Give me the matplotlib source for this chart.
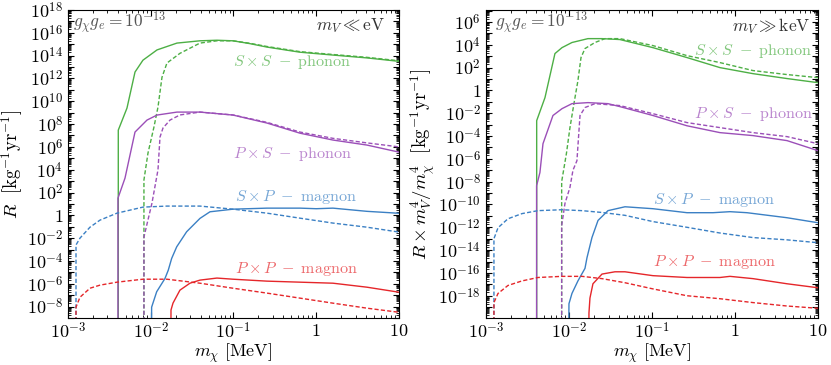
import numpy as np
import matplotlib
matplotlib.use("Agg")
import matplotlib.pyplot as plt
from matplotlib.ticker import LogLocator, FuncFormatter, NullFormatter

plt.rcParams['mathtext.fontset'] = 'cm'
plt.rcParams['font.family'] = 'serif'

# values, stored as log10(m_chi / MeV) and log10(R)
# -30 marks a curve that drops out of the bottom of the frame

# ---- left panel: m_V << eV
ss_l_m = [-2.392, -2.392, -2.287, -2.19, -2.094, -1.924, -1.683, -1.405, -1.2, -1.006, -0.8, -0.595, -0.196, 0.202, 0.613, 1.0]
ss_l_R = [-30, 7.47, 9.4, 12.56, 13.6, 14.5, 15.1, 15.3, 15.35, 15.3, 15.05, 14.75, 14.3, 14.05, 13.8, 13.5]
ss_l_dm = [-2.082, -2.082, -2.033, -1.961, -1.912, -1.864, -1.804, -1.647, -1.405, -1.2, -1.006, -0.8, -0.595, -0.196, 0.202, 0.613, 1.0]
ss_l_dR = [-30, 3.1, 5.46, 7.74, 9.5, 12.1, 13.35, 14.2, 15.1, 15.3, 15.3, 15.08, 14.8, 14.35, 14.1, 13.85, 13.55]

ps_l_m = [-2.396, -2.396, -2.311, -2.19, -2.045, -1.924, -1.683, -1.405, -1.006, -0.595, -0.196, 0.202, 0.613, 1.0]
ps_l_R = [-30, 1.5, 3.26, 7.3, 8.35, 8.79, 9.05, 9.05, 8.79, 8.09, 7.2, 6.6, 6.16, 5.54]
ps_l_dm = [-2.082, -2.082, -1.985, -1.912, -1.888, -1.852, -1.767, -1.647, -1.405, -1.006, -0.595, -0.196, 0.202, 0.613, 1.0]
ps_l_dR = [-30, -1.9, 1.07, 4.0, 6.86, 7.65, 8.35, 8.8, 9.05, 8.8, 8.15, 7.3, 6.75, 6.35, 6.0]

sp_l_m = [-2.009, -1.989, -1.928, -1.828, -1.788, -1.747, -1.686, -1.566, -1.405, -1.284, -1.006, -0.595, -0.196, 0.0, 0.202, 0.613, 1.0]
sp_l_R = [-30, -8.05, -6.7, -5.54, -4.81, -3.78, -2.76, -1.44, -0.27, 0.31, 0.54, 0.63, 0.63, 0.58, 0.63, 0.35, 0.18]
sp_l_dm = [-2.903, -2.903, -2.855, -2.734, -2.613, -2.408, -2.094, -1.804, -1.405, -1.006, -0.595, -0.196, 0.202, 0.613, 1.0]
sp_l_dR = [-30, -2.6, -2.0, -1.04, -0.42, 0.19, 0.72, 0.81, 0.81, 0.54, 0.19, -0.25, -0.68, -1.04, -1.47]

pp_l_m = [-1.767, -1.755, -1.731, -1.647, -1.526, -1.405, -1.2, -1.006, -0.595, -0.196, 0.202, 0.613, 1.0]
pp_l_R = [-30, -8.3, -7.7, -6.56, -5.95, -5.68, -5.5, -5.6, -5.77, -5.86, -5.95, -6.3, -6.74]
pp_l_dm = [-2.903, -2.903, -2.855, -2.734, -2.613, -2.408, -2.094, -1.804, -1.405, -1.006, -0.595, -0.196, 0.202, 0.613, 1.0]
pp_l_dR = [-30, -8.05, -7.18, -6.39, -6.12, -5.86, -5.6, -5.6, -5.95, -6.39, -6.82, -7.26, -7.7, -8.14, -8.5]

# ---- right panel: m_V >> keV, R * m_V^4 / m_chi^4
ss_r_m = [-2.389, -2.389, -2.289, -2.169, -2.084, -1.964, -1.771, -1.6, -1.386, -0.988, -0.578, -0.181, 0.217, 0.627, 1.0]
ss_r_R = [-30, -2.65, -0.63, 3.23, 3.75, 4.2, 4.54, 4.54, 4.46, 3.75, 2.88, 2.0, 1.47, 1.04, 0.68]
ss_r_dm = [-2.088, -2.088, -2.03, -1.988, -1.94, -1.892, -1.855, -1.807, -1.687, -1.566, -1.386, -0.988, -0.578, -0.181, 0.217, 0.627, 1.0]
ss_r_dR = [-30, -8.0, -5.5, -3.26, -1.16, 0.86, 2.88, 3.67, 4.2, 4.54, 4.54, 3.93, 3.05, 2.44, 1.74, 1.39, 1.12]

ps_r_m = [-2.39, -2.39, -2.35, -2.313, -2.193, -2.084, -1.964, -1.771, -1.53, -1.386, -0.988, -0.578, -0.181, 0.217, 0.627, 1.0]
ps_r_R = [-30, -8.35, -7.2, -4.67, -2.2, -1.6, -1.16, -1.07, -1.16, -1.42, -2.2, -3.1, -3.7, -3.96, -4.4, -5.28]
ps_r_dm = [-2.088, -2.088, -2.048, -1.988, -1.952, -1.904, -1.867, -1.807, -1.687, -1.386, -0.988, -0.578, -0.181, 0.217, 0.627, 1.0]
ps_r_dR = [-30, -11.86, -9.9, -8.5, -7.0, -6.16, -2.2, -1.5, -1.16, -1.33, -2.04, -2.82, -3.26, -3.7, -4.05, -4.67]

sp_r_m = [-2.012, -2.0, -1.964, -1.892, -1.807, -1.783, -1.723, -1.65, -1.53, -1.325, -0.988, -0.578, -0.265, -0.06, 0.145, 0.627, 1.0]
sp_r_R = [-30, -18.7, -17.8, -16.7, -15.6, -14.67, -12.9, -11.4, -10.54, -10.2, -10.37, -10.72, -10.72, -10.63, -10.72, -11.16, -11.6]
sp_r_dm = [-2.904, -2.904, -2.855, -2.735, -2.566, -2.373, -2.084, -1.843, -1.602, -1.325, -0.988, -0.578, -0.181, 0.217, 0.627, 1.0]
sp_r_dR = [-30, -13.0, -12.04, -11.25, -10.8, -10.54, -10.46, -10.54, -10.7, -10.95, -11.5, -12.0, -12.5, -12.9, -13.1, -13.35]

pp_r_m = [-1.771, -1.759, -1.747, -1.711, -1.602, -1.446, -1.325, -0.988, -0.578, -0.181, -0.06, 0.217, 0.627, 1.0]
pp_r_R = [-30, -19.5, -18.2, -16.95, -16.1, -15.9, -15.9, -16.24, -16.4, -16.4, -16.3, -16.5, -16.95, -17.3]
pp_r_dm = [-2.904, -2.904, -2.855, -2.735, -2.566, -2.373, -2.084, -1.843, -1.602, -1.325, -0.988, -0.578, -0.181, 0.217, 0.627, 1.0]
pp_r_dR = [-30, -18.6, -17.8, -17.1, -16.7, -16.4, -16.3, -16.3, -16.5, -16.86, -17.4, -18.0, -18.26, -18.6, -18.9, -19.1]

labels = [r'$S\times S\ -\ \mathrm{phonon}$', r'$P\times S\ -\ \mathrm{phonon}$',
          r'$S\times P\ -\ \mathrm{magnon}$', r'$P\times P\ -\ \mathrm{magnon}$']
colors = ['#4daf45', '#9b4fb8', '#3b80c4', '#e5262a']


def fmt(v, pos):
    e = int(round(np.log10(v)))
    if e % 2 != 0:
        return ''
    if e == 0:
        return r'$1$'
    return r'$10^{%d}$' % e


def fmt_x(v, pos):
    e = int(round(np.log10(v)))
    if e == 0:
        return r'$1$'
    if e == 1:
        return r'$10$'
    return r'$10^{%d}$' % e


def setup(ax, ylim):
    ax.set_xscale('log')
    ax.set_yscale('log')
    ax.set_xlim(1e-3, 10)
    ax.set_ylim(*ylim)
    ax.xaxis.set_major_locator(LogLocator(base=10, numticks=20))
    ax.xaxis.set_minor_locator(LogLocator(base=10, subs=np.arange(2, 10), numticks=20))
    ax.yaxis.set_major_locator(LogLocator(base=10, subs=(1.0,), numticks=40))
    ax.yaxis.set_minor_locator(LogLocator(base=10, subs=np.arange(2, 10), numticks=40))
    ax.xaxis.set_major_formatter(FuncFormatter(fmt_x))
    ax.yaxis.set_major_formatter(FuncFormatter(fmt))
    ax.xaxis.set_minor_formatter(NullFormatter())
    ax.yaxis.set_minor_formatter(NullFormatter())
    ax.tick_params(which='both', direction='in', top=True, right=True, labelsize=13)
    ax.tick_params(which='major', length=4, width=0.8)
    ax.tick_params(which='minor', length=2, width=0.6)
    ax.tick_params(axis='x', pad=3)
    ax.set_xlabel(r'$m_\chi\ [\mathrm{MeV}]$', fontsize=13, labelpad=-1)


def curves(ax, sets):
    for (m, R, dm, dR), c in zip(sets, colors):
        ax.plot(np.power(10.0, m), np.power(10.0, R), color=c, lw=1.0)
        ax.plot(np.power(10.0, dm), np.power(10.0, dR), color=c, lw=1.0, ls=(0, (3, 1.6)))


fig = plt.figure(figsize=(8.31, 3.65), dpi=100)
axl = fig.add_axes([0.0818, 0.1288, 0.3983, 0.8438])
axr = fig.add_axes([0.5848, 0.1288, 0.3995, 0.8438])

setup(axl, (1e-9, 1e18))
setup(axr, (10 ** -19.95, 10 ** 7.05))

curves(axl, [(ss_l_m, ss_l_R, ss_l_dm, ss_l_dR), (ps_l_m, ps_l_R, ps_l_dm, ps_l_dR),
             (sp_l_m, sp_l_R, sp_l_dm, sp_l_dR), (pp_l_m, pp_l_R, pp_l_dm, pp_l_dR)])
curves(axr, [(ss_r_m, ss_r_R, ss_r_dm, ss_r_dR), (ps_r_m, ps_r_R, ps_r_dm, ps_r_dR),
             (sp_r_m, sp_r_R, sp_r_dm, sp_r_dR), (pp_r_m, pp_r_R, pp_r_dm, pp_r_dR)])

axl.set_ylabel(r'$R\ \ [\mathrm{kg}^{-1}\mathrm{yr}^{-1}]$', fontsize=13.5, labelpad=1)
axr.set_ylabel(r'$R\times m_V^4/m_\chi^4\ \ [\mathrm{kg}^{-1}\mathrm{yr}^{-1}]$', fontsize=13.5, labelpad=1)

tsize = 11.5
gtext = r'$g_\chi g_e = 10^{-13}$'
axl.text(0.015, 0.958, gtext, transform=axl.transAxes, fontsize=12.5, color='#555555', va='center')
axl.text(0.958, 0.948, r'$m_V \ll \mathrm{eV}$', transform=axl.transAxes, fontsize=12.5, color='#333333', va='center', ha='right')
axr.text(0.027, 0.958, gtext, transform=axr.transAxes, fontsize=12.5, color='#555555', va='center')
axr.text(0.976, 0.948, r'$m_V \gg \mathrm{keV}$', transform=axr.transAxes, fontsize=12.5, color='#333333', va='center', ha='right')

pos_l = [(0.498, 0.831), (0.498, 0.532), (0.505, 0.393), (0.505, 0.159)]
pos_r = [(0.627, 0.867), (0.627, 0.662), (0.503, 0.383), (0.503, 0.182)]
for lab, c, pl, pr in zip(labels, colors, pos_l, pos_r):
    axl.text(pl[0], pl[1], lab, transform=axl.transAxes, fontsize=tsize, color=c, alpha=0.7, va='center')
    axr.text(pr[0], pr[1], lab, transform=axr.transAxes, fontsize=tsize, color=c, alpha=0.7, va='center')

fig.savefig('out.png', dpi=100)
